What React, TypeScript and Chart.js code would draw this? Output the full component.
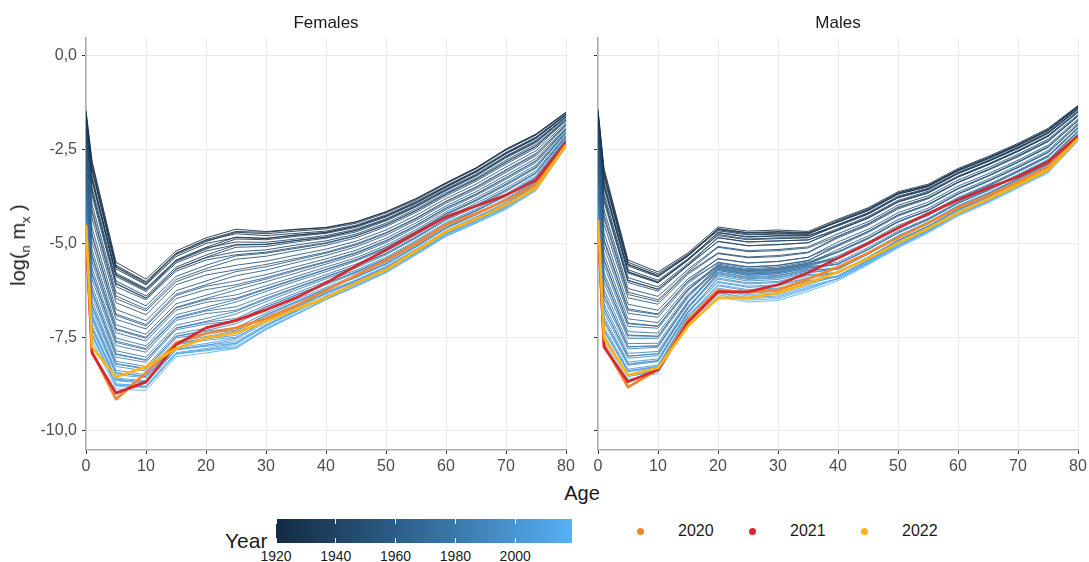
import React, { useEffect, useRef } from "react";
import { Chart, registerables } from "chart.js";
Chart.register(...registerables);

const AGES = [0, 1, 5, 10, 15, 20, 25, 30, 35, 40, 45, 50, 55, 60, 65, 70, 75, 80];
const YEARS = [
  1920, 1922, 1924, 1926, 1928, 1930, 1932, 1934, 1936, 1938, 1940, 1942, 1944, 1946, 1948, 1950, 1952, 1954, 1956, 1958,
  1960, 1962, 1964, 1966, 1968, 1970, 1972, 1974, 1976, 1978, 1980, 1982, 1984, 1986, 1988, 1990, 1992, 1994, 1996, 1998,
  2000, 2002, 2004, 2006, 2008, 2010, 2012, 2014, 2016, 2018,
];
const X_TICKS = [0, 10, 20, 30, 40, 50, 60, 70, 80];
const Y_TICKS = [-10, -7.5, -5, -2.5, 0];
const COLORBAR_TICKS = [1920, 1940, 1960, 1980, 2000];
const HIGHLIGHT_LABELS = ["2020", "2021", "2022"];
const HIGHLIGHT_COLORS = ["#F4862F", "#D42A2F", "#FDB316"];
const PANEL_TITLES = ["Females", "Males"];

// log(nmx): one row per age group (AGES), one value per year (YEARS)
const FEMALE_BY_AGE = [
  [-1.45, -1.5, -1.6, -1.58, -1.62, -1.72, -1.8, -1.78, -1.84, -1.95, -2.02, -2.04, -2.1, -2.28, -2.4, -2.45, -2.55, -2.72, -2.86, -2.9, -3.0, -3.15, -3.27, -3.32, -3.4, -3.52, -3.62, -3.66, -3.74, -3.86, -3.95, -3.98, -4.05, -4.16, -4.24, -4.27, -4.33, -4.42, -4.47, -4.5, -4.55, -4.63, -4.68, -4.69, -4.72, -4.79, -4.82, -4.83, -4.86, -4.92],
  [-2.8, -2.86, -2.98, -2.97, -3.05, -3.2, -3.28, -3.26, -3.34, -3.5, -3.6, -3.62, -3.72, -3.95, -4.1, -4.18, -4.33, -4.58, -4.75, -4.8, -4.95, -5.16, -5.3, -5.36, -5.48, -5.66, -5.78, -5.83, -5.95, -6.13, -6.25, -6.28, -6.38, -6.53, -6.63, -6.67, -6.76, -6.88, -6.95, -6.98, -7.05, -7.18, -7.25, -7.26, -7.3, -7.39, -7.43, -7.44, -7.48, -7.58],
  [-5.5, -5.58, -5.63, -5.62, -5.68, -5.79, -5.84, -5.83, -5.88, -6.0, -6.06, -6.08, -6.15, -6.3, -6.4, -6.47, -6.58, -6.76, -6.88, -6.92, -7.02, -7.17, -7.27, -7.3, -7.38, -7.52, -7.6, -7.64, -7.72, -7.86, -7.94, -7.96, -8.03, -8.14, -8.2, -8.22, -8.28, -8.38, -8.44, -8.45, -8.5, -8.59, -8.64, -8.62, -8.66, -8.74, -8.78, -8.76, -8.8, -8.88],
  [-5.95, -6.02, -6.08, -6.04, -6.1, -6.2, -6.25, -6.22, -6.28, -6.4, -6.45, -6.46, -6.5, -6.66, -6.75, -6.8, -6.9, -7.06, -7.16, -7.2, -7.28, -7.42, -7.5, -7.53, -7.6, -7.73, -7.8, -7.83, -7.9, -8.03, -8.1, -8.12, -8.17, -8.28, -8.33, -8.35, -8.4, -8.5, -8.55, -8.54, -8.58, -8.66, -8.7, -8.69, -8.73, -8.8, -8.83, -8.81, -8.85, -8.92],
  [-5.2, -5.26, -5.3, -5.27, -5.35, -5.44, -5.48, -5.46, -5.52, -5.63, -5.68, -5.69, -5.74, -5.88, -5.96, -6.02, -6.1, -6.26, -6.35, -6.39, -6.47, -6.61, -6.7, -6.72, -6.78, -6.9, -6.97, -7.0, -7.05, -7.18, -7.25, -7.26, -7.3, -7.41, -7.47, -7.48, -7.52, -7.62, -7.67, -7.67, -7.7, -7.78, -7.83, -7.82, -7.84, -7.91, -7.95, -7.93, -7.95, -8.02],
  [-4.85, -4.9, -4.95, -4.92, -5.0, -5.1, -5.15, -5.12, -5.2, -5.31, -5.37, -5.38, -5.44, -5.58, -5.67, -5.73, -5.84, -6.0, -6.1, -6.14, -6.23, -6.38, -6.47, -6.5, -6.57, -6.7, -6.77, -6.8, -6.87, -7.0, -7.08, -7.1, -7.15, -7.26, -7.32, -7.34, -7.39, -7.48, -7.53, -7.54, -7.58, -7.67, -7.72, -7.71, -7.74, -7.8, -7.84, -7.83, -7.86, -7.92],
  [-4.62, -4.68, -4.7, -4.74, -4.84, -4.83, -4.88, -4.96, -5.03, -5.04, -5.1, -5.22, -5.3, -5.33, -5.42, -5.58, -5.7, -5.75, -5.86, -6.0, -6.1, -6.15, -6.24, -6.37, -6.46, -6.49, -6.56, -6.69, -6.78, -6.81, -6.88, -7.0, -7.06, -7.08, -7.14, -7.25, -7.32, -7.33, -7.37, -7.45, -7.5, -7.52, -7.56, -7.62, -7.66, -7.66, -7.69, -7.75, -7.78, -7.8],
  [-4.68, -4.7, -4.74, -4.79, -4.87, -4.86, -4.9, -4.97, -5.02, -5.03, -5.08, -5.17, -5.23, -5.26, -5.34, -5.47, -5.56, -5.62, -5.71, -5.83, -5.91, -5.95, -6.02, -6.13, -6.2, -6.22, -6.28, -6.39, -6.46, -6.49, -6.55, -6.64, -6.69, -6.7, -6.76, -6.85, -6.9, -6.9, -6.94, -7.01, -7.06, -7.06, -7.1, -7.16, -7.19, -7.18, -7.21, -7.26, -7.28, -7.3],
  [-4.62, -4.63, -4.67, -4.73, -4.78, -4.77, -4.81, -4.88, -4.92, -4.92, -4.96, -5.04, -5.1, -5.13, -5.19, -5.31, -5.4, -5.44, -5.51, -5.62, -5.69, -5.72, -5.79, -5.88, -5.94, -5.96, -6.01, -6.11, -6.17, -6.19, -6.24, -6.32, -6.37, -6.38, -6.42, -6.5, -6.56, -6.55, -6.58, -6.65, -6.69, -6.69, -6.72, -6.78, -6.81, -6.8, -6.82, -6.87, -6.89, -6.9],
  [-4.57, -4.58, -4.61, -4.67, -4.71, -4.7, -4.73, -4.79, -4.83, -4.83, -4.86, -4.93, -4.98, -5.0, -5.05, -5.15, -5.23, -5.26, -5.32, -5.41, -5.48, -5.5, -5.55, -5.63, -5.69, -5.7, -5.75, -5.83, -5.88, -5.9, -5.94, -6.01, -6.06, -6.07, -6.1, -6.17, -6.21, -6.21, -6.23, -6.29, -6.33, -6.32, -6.35, -6.4, -6.42, -6.41, -6.43, -6.47, -6.49, -6.5],
  [-4.42, -4.43, -4.46, -4.51, -4.54, -4.54, -4.57, -4.62, -4.65, -4.65, -4.69, -4.75, -4.79, -4.8, -4.85, -4.94, -5.01, -5.04, -5.09, -5.18, -5.24, -5.26, -5.3, -5.38, -5.43, -5.44, -5.47, -5.55, -5.6, -5.61, -5.65, -5.71, -5.75, -5.76, -5.79, -5.85, -5.89, -5.89, -5.91, -5.97, -6.0, -5.99, -6.02, -6.06, -6.08, -6.07, -6.09, -6.12, -6.14, -6.15],
  [-4.15, -4.16, -4.19, -4.24, -4.27, -4.27, -4.29, -4.34, -4.37, -4.37, -4.4, -4.46, -4.5, -4.51, -4.55, -4.64, -4.71, -4.73, -4.78, -4.86, -4.92, -4.94, -4.98, -5.05, -5.1, -5.11, -5.14, -5.21, -5.26, -5.27, -5.3, -5.37, -5.41, -5.41, -5.44, -5.5, -5.54, -5.54, -5.56, -5.61, -5.64, -5.64, -5.66, -5.7, -5.72, -5.71, -5.72, -5.75, -5.77, -5.78],
  [-3.8, -3.81, -3.84, -3.88, -3.91, -3.91, -3.93, -3.97, -4.0, -4.0, -4.03, -4.08, -4.12, -4.13, -4.17, -4.25, -4.32, -4.34, -4.38, -4.45, -4.51, -4.52, -4.56, -4.63, -4.68, -4.68, -4.71, -4.78, -4.83, -4.83, -4.86, -4.92, -4.96, -4.96, -4.99, -5.05, -5.08, -5.08, -5.1, -5.15, -5.17, -5.17, -5.19, -5.23, -5.25, -5.24, -5.25, -5.27, -5.28, -5.31],
  [-3.38, -3.39, -3.41, -3.46, -3.49, -3.48, -3.5, -3.54, -3.57, -3.57, -3.6, -3.65, -3.68, -3.69, -3.73, -3.8, -3.87, -3.89, -3.93, -4.0, -4.05, -4.06, -4.1, -4.16, -4.21, -4.21, -4.24, -4.3, -4.35, -4.35, -4.38, -4.44, -4.48, -4.48, -4.5, -4.56, -4.59, -4.58, -4.6, -4.65, -4.68, -4.67, -4.69, -4.73, -4.75, -4.74, -4.75, -4.78, -4.8, -4.81],
  [-2.98, -2.99, -3.01, -3.06, -3.09, -3.08, -3.1, -3.15, -3.18, -3.18, -3.21, -3.26, -3.29, -3.3, -3.34, -3.42, -3.49, -3.51, -3.55, -3.62, -3.68, -3.69, -3.72, -3.79, -3.84, -3.84, -3.87, -3.93, -3.98, -3.99, -4.02, -4.08, -4.12, -4.12, -4.14, -4.2, -4.23, -4.22, -4.24, -4.29, -4.32, -4.31, -4.33, -4.37, -4.4, -4.39, -4.4, -4.43, -4.45, -4.46],
  [-2.48, -2.49, -2.51, -2.57, -2.6, -2.59, -2.61, -2.66, -2.69, -2.69, -2.72, -2.78, -2.82, -2.84, -2.88, -2.96, -3.03, -3.06, -3.1, -3.18, -3.24, -3.25, -3.29, -3.36, -3.41, -3.42, -3.45, -3.52, -3.57, -3.58, -3.61, -3.68, -3.72, -3.72, -3.74, -3.8, -3.84, -3.83, -3.85, -3.91, -3.94, -3.93, -3.95, -3.99, -4.02, -4.01, -4.02, -4.05, -4.07, -4.09],
  [-2.08, -2.09, -2.11, -2.16, -2.19, -2.18, -2.2, -2.25, -2.28, -2.28, -2.31, -2.36, -2.4, -2.41, -2.45, -2.53, -2.6, -2.62, -2.66, -2.73, -2.79, -2.8, -2.84, -2.91, -2.96, -2.96, -2.99, -3.06, -3.11, -3.11, -3.14, -3.2, -3.24, -3.24, -3.26, -3.32, -3.36, -3.35, -3.37, -3.42, -3.45, -3.44, -3.46, -3.5, -3.53, -3.51, -3.52, -3.55, -3.57, -3.59],
  [-1.5, -1.5, -1.52, -1.55, -1.57, -1.56, -1.57, -1.61, -1.63, -1.63, -1.64, -1.68, -1.7, -1.71, -1.73, -1.78, -1.82, -1.84, -1.86, -1.91, -1.94, -1.95, -1.97, -2.01, -2.04, -2.04, -2.06, -2.11, -2.14, -2.14, -2.15, -2.19, -2.22, -2.22, -2.23, -2.27, -2.29, -2.28, -2.29, -2.33, -2.35, -2.34, -2.35, -2.37, -2.38, -2.37, -2.38, -2.41, -2.42, -2.42],
];

const MALE_BY_AGE = [
  [-1.42, -1.47, -1.55, -1.52, -1.58, -1.68, -1.74, -1.72, -1.79, -1.9, -1.97, -1.98, -2.04, -2.2, -2.3, -2.36, -2.46, -2.63, -2.75, -2.78, -2.88, -3.03, -3.14, -3.16, -3.23, -3.37, -3.45, -3.48, -3.55, -3.7, -3.78, -3.79, -3.85, -3.97, -4.03, -4.05, -4.1, -4.2, -4.26, -4.27, -4.31, -4.4, -4.45, -4.44, -4.47, -4.54, -4.58, -4.57, -4.6, -4.67],
  [-3.0, -3.06, -3.17, -3.16, -3.25, -3.37, -3.45, -3.43, -3.52, -3.67, -3.78, -3.8, -3.89, -4.1, -4.24, -4.33, -4.49, -4.72, -4.88, -4.94, -5.09, -5.29, -5.42, -5.47, -5.59, -5.77, -5.88, -5.93, -6.05, -6.22, -6.34, -6.37, -6.47, -6.61, -6.71, -6.74, -6.83, -6.95, -7.03, -7.04, -7.11, -7.23, -7.31, -7.3, -7.35, -7.44, -7.49, -7.48, -7.53, -7.62],
  [-5.44, -5.5, -5.56, -5.55, -5.6, -5.7, -5.76, -5.75, -5.79, -5.91, -5.98, -5.99, -6.04, -6.2, -6.3, -6.36, -6.45, -6.62, -6.74, -6.78, -6.86, -7.01, -7.12, -7.14, -7.21, -7.35, -7.44, -7.46, -7.53, -7.67, -7.75, -7.76, -7.81, -7.93, -8.0, -8.01, -8.06, -8.16, -8.22, -8.21, -8.25, -8.35, -8.41, -8.39, -8.42, -8.5, -8.54, -8.52, -8.55, -8.62],
  [-5.76, -5.81, -5.87, -5.85, -5.89, -5.98, -6.04, -6.02, -6.05, -6.16, -6.22, -6.22, -6.27, -6.41, -6.5, -6.55, -6.62, -6.78, -6.88, -6.9, -6.97, -7.11, -7.2, -7.21, -7.26, -7.39, -7.47, -7.48, -7.53, -7.66, -7.73, -7.73, -7.77, -7.88, -7.94, -7.94, -7.99, -8.08, -8.13, -8.12, -8.15, -8.24, -8.29, -8.27, -8.3, -8.37, -8.4, -8.38, -8.4, -8.47],
  [-5.25, -5.29, -5.33, -5.31, -5.34, -5.41, -5.44, -5.42, -5.45, -5.53, -5.57, -5.57, -5.59, -5.69, -5.75, -5.78, -5.82, -5.94, -6.0, -6.01, -6.06, -6.16, -6.22, -6.22, -6.26, -6.35, -6.4, -6.4, -6.44, -6.53, -6.58, -6.57, -6.6, -6.68, -6.72, -6.71, -6.74, -6.81, -6.85, -6.83, -6.85, -6.92, -6.95, -6.92, -6.94, -7.0, -7.03, -7.0, -7.01, -7.07],
  [-4.56, -4.62, -4.6, -4.66, -4.63, -4.72, -4.7, -4.79, -4.76, -4.85, -4.84, -4.95, -4.94, -5.08, -5.1, -5.25, -5.27, -5.41, -5.4, -5.52, -5.5, -5.6, -5.55, -5.63, -5.58, -5.67, -5.61, -5.69, -5.65, -5.72, -5.68, -5.76, -5.72, -5.81, -5.78, -5.87, -5.83, -5.95, -5.92, -6.04, -6.01, -6.13, -6.1, -6.23, -6.19, -6.31, -6.26, -6.37, -6.33, -6.42],
  [-4.67, -4.72, -4.71, -4.77, -4.75, -4.83, -4.82, -4.9, -4.88, -4.96, -4.96, -5.06, -5.06, -5.19, -5.22, -5.36, -5.38, -5.52, -5.52, -5.63, -5.62, -5.72, -5.67, -5.75, -5.7, -5.79, -5.73, -5.82, -5.77, -5.85, -5.81, -5.89, -5.85, -5.94, -5.91, -6.0, -5.96, -6.08, -6.05, -6.17, -6.14, -6.26, -6.23, -6.36, -6.32, -6.44, -6.4, -6.51, -6.47, -6.56],
  [-4.64, -4.7, -4.68, -4.75, -4.73, -4.8, -4.79, -4.87, -4.85, -4.93, -4.93, -5.03, -5.03, -5.16, -5.19, -5.32, -5.35, -5.48, -5.48, -5.59, -5.58, -5.68, -5.63, -5.71, -5.66, -5.75, -5.69, -5.78, -5.73, -5.81, -5.77, -5.85, -5.81, -5.9, -5.87, -5.96, -5.92, -6.04, -6.01, -6.13, -6.1, -6.22, -6.19, -6.32, -6.28, -6.4, -6.36, -6.47, -6.43, -6.52],
  [-4.68, -4.72, -4.71, -4.76, -4.74, -4.8, -4.79, -4.85, -4.84, -4.91, -4.9, -4.98, -4.98, -5.09, -5.12, -5.23, -5.25, -5.37, -5.37, -5.46, -5.45, -5.53, -5.49, -5.56, -5.52, -5.59, -5.55, -5.62, -5.58, -5.65, -5.62, -5.69, -5.66, -5.73, -5.71, -5.79, -5.76, -5.86, -5.83, -5.93, -5.91, -6.01, -5.99, -6.09, -6.06, -6.17, -6.13, -6.23, -6.2, -6.28],
  [-4.35, -4.38, -4.43, -4.41, -4.42, -4.49, -4.53, -4.51, -4.52, -4.6, -4.64, -4.63, -4.65, -4.74, -4.8, -4.82, -4.85, -4.96, -5.03, -5.04, -5.07, -5.16, -5.22, -5.22, -5.24, -5.33, -5.38, -5.38, -5.41, -5.5, -5.55, -5.54, -5.56, -5.64, -5.68, -5.67, -5.69, -5.76, -5.79, -5.77, -5.79, -5.86, -5.89, -5.86, -5.88, -5.93, -5.95, -5.93, -5.94, -5.99],
  [-4.05, -4.08, -4.13, -4.1, -4.11, -4.18, -4.22, -4.2, -4.21, -4.28, -4.32, -4.31, -4.33, -4.42, -4.47, -4.49, -4.52, -4.62, -4.68, -4.68, -4.71, -4.8, -4.86, -4.85, -4.88, -4.96, -5.01, -5.0, -5.03, -5.11, -5.16, -5.15, -5.17, -5.24, -5.28, -5.27, -5.29, -5.36, -5.39, -5.37, -5.38, -5.45, -5.48, -5.45, -5.47, -5.52, -5.54, -5.51, -5.53, -5.57],
  [-3.62, -3.65, -3.69, -3.66, -3.68, -3.74, -3.78, -3.76, -3.78, -3.85, -3.89, -3.88, -3.9, -3.98, -4.03, -4.05, -4.08, -4.18, -4.24, -4.24, -4.27, -4.36, -4.42, -4.41, -4.43, -4.52, -4.57, -4.56, -4.58, -4.67, -4.72, -4.7, -4.72, -4.79, -4.83, -4.82, -4.84, -4.91, -4.94, -4.92, -4.93, -5.0, -5.03, -5.0, -5.02, -5.07, -5.09, -5.06, -5.08, -5.12],
  [-3.42, -3.45, -3.49, -3.46, -3.47, -3.53, -3.57, -3.54, -3.55, -3.61, -3.65, -3.64, -3.66, -3.73, -3.78, -3.79, -3.81, -3.9, -3.96, -3.96, -3.98, -4.06, -4.12, -4.11, -4.13, -4.2, -4.24, -4.23, -4.26, -4.33, -4.37, -4.35, -4.37, -4.43, -4.47, -4.46, -4.48, -4.53, -4.56, -4.54, -4.55, -4.61, -4.64, -4.61, -4.63, -4.67, -4.69, -4.66, -4.68, -4.72],
  [-3.0, -3.03, -3.07, -3.04, -3.05, -3.11, -3.14, -3.12, -3.13, -3.2, -3.23, -3.22, -3.23, -3.31, -3.36, -3.37, -3.38, -3.47, -3.53, -3.53, -3.55, -3.63, -3.68, -3.67, -3.69, -3.77, -3.81, -3.8, -3.82, -3.89, -3.93, -3.91, -3.93, -3.99, -4.03, -4.01, -4.03, -4.09, -4.12, -4.1, -4.11, -4.17, -4.19, -4.16, -4.18, -4.22, -4.24, -4.21, -4.23, -4.27],
  [-2.68, -2.71, -2.75, -2.72, -2.73, -2.79, -2.82, -2.8, -2.81, -2.88, -2.91, -2.89, -2.9, -2.98, -3.03, -3.03, -3.05, -3.14, -3.2, -3.19, -3.21, -3.29, -3.34, -3.33, -3.35, -3.43, -3.47, -3.46, -3.48, -3.55, -3.59, -3.57, -3.59, -3.65, -3.69, -3.67, -3.68, -3.74, -3.77, -3.75, -3.76, -3.82, -3.84, -3.81, -3.83, -3.87, -3.89, -3.86, -3.88, -3.92],
  [-2.33, -2.36, -2.4, -2.37, -2.38, -2.44, -2.47, -2.44, -2.45, -2.52, -2.55, -2.53, -2.54, -2.62, -2.66, -2.67, -2.69, -2.78, -2.83, -2.82, -2.84, -2.92, -2.97, -2.96, -2.98, -3.05, -3.09, -3.07, -3.09, -3.16, -3.2, -3.18, -3.2, -3.26, -3.3, -3.28, -3.29, -3.35, -3.38, -3.35, -3.36, -3.42, -3.45, -3.42, -3.43, -3.47, -3.49, -3.46, -3.48, -3.52],
  [-1.93, -1.96, -2.0, -1.97, -1.98, -2.04, -2.07, -2.04, -2.05, -2.12, -2.15, -2.13, -2.14, -2.22, -2.26, -2.27, -2.29, -2.38, -2.43, -2.42, -2.44, -2.52, -2.57, -2.56, -2.58, -2.65, -2.69, -2.67, -2.69, -2.76, -2.8, -2.78, -2.8, -2.86, -2.9, -2.88, -2.89, -2.95, -2.98, -2.95, -2.96, -3.02, -3.05, -3.02, -3.03, -3.07, -3.09, -3.06, -3.08, -3.12],
  [-1.32, -1.34, -1.37, -1.35, -1.36, -1.4, -1.43, -1.41, -1.42, -1.47, -1.5, -1.49, -1.5, -1.56, -1.59, -1.6, -1.61, -1.68, -1.72, -1.72, -1.73, -1.79, -1.83, -1.83, -1.84, -1.9, -1.93, -1.92, -1.93, -1.99, -2.02, -2.01, -2.02, -2.07, -2.09, -2.08, -2.09, -2.14, -2.16, -2.14, -2.15, -2.19, -2.21, -2.19, -2.2, -2.23, -2.25, -2.22, -2.24, -2.27],
];

// Highlight years (values follow AGES)
const FEMALE_2020 = [-4.6, -7.88, -9.15, -8.45, -7.65, -7.4, -7.25, -7.0, -6.65, -6.25, -5.85, -5.45, -5.0, -4.5, -4.2, -3.85, -3.42, -2.35];
const FEMALE_2021 = [-4.75, -7.92, -8.99, -8.69, -7.7, -7.25, -7.05, -6.77, -6.45, -6.05, -5.6, -5.17, -4.72, -4.29, -4.0, -3.71, -3.31, -2.3];
const FEMALE_2022 = [-4.5, -7.76, -8.56, -8.29, -7.8, -7.52, -7.38, -7.08, -6.75, -6.45, -6.05, -5.7, -5.2, -4.68, -4.35, -3.97, -3.52, -2.37];
const MALE_2020 = [-4.45, -7.7, -8.83, -8.36, -7.04, -6.24, -6.3, -6.24, -5.95, -5.63, -5.25, -4.85, -4.45, -4.05, -3.72, -3.36, -2.95, -2.17];
const MALE_2021 = [-4.5, -7.76, -8.69, -8.37, -7.1, -6.29, -6.29, -6.1, -5.78, -5.39, -5.0, -4.59, -4.2, -3.84, -3.52, -3.22, -2.83, -2.13];
const MALE_2022 = [-4.37, -7.52, -8.51, -8.32, -7.2, -6.45, -6.45, -6.32, -6.05, -5.76, -5.4, -4.99, -4.6, -4.19, -3.82, -3.44, -3.04, -2.2];

const FONT = '"Liberation Sans", Arial, Helvetica, sans-serif';
const LOW = "#132B43";
const HIGH = "#56B1F7";
const YEAR_MIN = 1920;
const YEAR_MAX = 2019;

function hexToRgb(h: string) {
  return [parseInt(h.slice(1, 3), 16), parseInt(h.slice(3, 5), 16), parseInt(h.slice(5, 7), 16)];
}
function toLin(c: number) {
  c /= 255;
  return c <= 0.04045 ? c / 12.92 : Math.pow((c + 0.055) / 1.055, 2.4);
}
function fromLin(c: number) {
  const v = c <= 0.0031308 ? 12.92 * c : 1.055 * Math.pow(c, 1 / 2.4) - 0.055;
  return Math.round(Math.max(0, Math.min(1, v)) * 255);
}
const D = 6 / 29;
function fl(t: number) {
  return t > D * D * D ? Math.cbrt(t) : t / (3 * D * D) + 4 / 29;
}
function finv(t: number) {
  return t > D ? t * t * t : 3 * D * D * (t - 4 / 29);
}
function rgbToLab(rgb: number[]) {
  const [r, g, b] = rgb.map(toLin);
  const X = (0.4124564 * r + 0.3575761 * g + 0.1804375 * b) / 0.95047;
  const Y = 0.2126729 * r + 0.7151522 * g + 0.072175 * b;
  const Z = (0.0193339 * r + 0.119192 * g + 0.9503041 * b) / 1.08883;
  return [116 * fl(Y) - 16, 500 * (fl(X) - fl(Y)), 200 * (fl(Y) - fl(Z))];
}
function labToRgb(lab: number[]) {
  const fy = (lab[0] + 16) / 116;
  const X = finv(fy + lab[1] / 500) * 0.95047;
  const Y = finv(fy);
  const Z = finv(fy - lab[2] / 200) * 1.08883;
  const r = 3.2404542 * X - 1.5371385 * Y - 0.4985314 * Z;
  const g = -0.969266 * X + 1.8760108 * Y + 0.041556 * Z;
  const b = 0.0556434 * X - 0.2040259 * Y + 1.0572252 * Z;
  return `rgb(${fromLin(r)},${fromLin(g)},${fromLin(b)})`;
}
const LAB_LOW = rgbToLab(hexToRgb(LOW));
const LAB_HIGH = rgbToLab(hexToRgb(HIGH));
function gradColor(t: number) {
  return labToRgb(LAB_LOW.map((v, i) => v + (LAB_HIGH[i] - v) * t));
}
function yearColor(y: number) {
  return gradColor((y - YEAR_MIN) / (YEAR_MAX - YEAR_MIN));
}

function buildDatasets(byAge: number[][], highlights: number[][]) {
  const ds: any[] = YEARS.map((y, j) => ({
    label: String(y),
    data: AGES.map((a, i) => ({ x: a, y: byAge[i][j] ?? null })),
    borderColor: yearColor(y),
    borderWidth: 0.85,
    pointRadius: 0,
    borderJoinStyle: "round",
    fill: false,
    order: 200 - j,
  }));
  highlights.forEach((arr, k) => {
    ds.push({
      label: HIGHLIGHT_LABELS[k],
      data: AGES.map((a, i) => ({ x: a, y: arr[i] })),
      borderColor: HIGHLIGHT_COLORS[k],
      borderWidth: 2.7,
      pointRadius: 0,
      borderJoinStyle: "round",
      fill: false,
      order: 2 - k,
    });
  });
  return ds;
}

function Panel({ byAge, highlights, showY, left }: { byAge: number[][]; highlights: number[][]; showY: boolean; left: number }) {
  const ref = useRef<HTMLCanvasElement>(null);
  useEffect(() => {
    if (!ref.current) return;
    const chart = new Chart(ref.current, {
      type: "line",
      data: { datasets: buildDatasets(byAge, highlights) },
      options: {
        animation: false,
        responsive: false,
        events: [],
        layout: { padding: { top: 38, right: 14, left: 0, bottom: 0 } },
        plugins: { legend: { display: false }, tooltip: { enabled: false }, title: { display: false } },
        scales: {
          x: {
            type: "linear",
            min: 0,
            max: 80,
            afterBuildTicks: (s: any) => {
              s.ticks = X_TICKS.map((v) => ({ value: v }));
            },
            afterFit: (s: any) => {
              s.height = 30;
            },
            grid: { color: "#EBEBEB", lineWidth: 1, tickColor: "#333333", tickLength: 4, tickWidth: 1 },
            border: { display: true, color: "#ADADAD", width: 1.5 },
            ticks: { color: "#4D4D4D", font: { size: 16, family: FONT }, padding: 3, maxRotation: 0, autoSkip: false },
          },
          y: {
            type: "linear",
            min: -10.507,
            max: 0.48,
            afterBuildTicks: (s: any) => {
              s.ticks = Y_TICKS.map((v) => ({ value: v }));
            },
            afterFit: (s: any) => {
              s.width = 86;
            },
            grid: { color: "#EBEBEB", lineWidth: 1, tickColor: "#333333", tickLength: 4, tickWidth: 1 },
            border: { display: true, color: "#ADADAD", width: 1.5 },
            ticks: {
              color: "#4D4D4D",
              font: { size: 16, family: FONT },
              padding: 5,
              autoSkip: false,
              callback: (v: any) => (showY ? Number(v).toFixed(1).replace(".", ",") : ""),
            },
          },
        },
      } as any,
    });
    return () => chart.destroy();
  }, []);
  return (
    <canvas
      ref={ref}
      width={580}
      height={480}
      style={{ position: "absolute", left, top: 0, width: 580, height: 480 }}
    />
  );
}

export default function App() {
  const barLeft = 276;
  const barWidth = 296;
  const stops = Array.from({ length: 11 }, (_, k) => `${gradColor(k / 10)} ${k * 10}%`).join(", ");
  const legendDots = [640, 752, 864];
  return (
    <div
      style={{
        position: "absolute",
        left: 0,
        top: 0,
        width: 1089,
        height: 562,
        overflow: "hidden",
        background: "#fff",
        fontFamily: FONT,
        color: "#1A1A1A",
      }}
    >
      <Panel byAge={FEMALE_BY_AGE} highlights={[FEMALE_2020, FEMALE_2021, FEMALE_2022]} showY={true} left={0} />
      <Panel byAge={MALE_BY_AGE} highlights={[MALE_2020, MALE_2021, MALE_2022]} showY={false} left={512} />
      {PANEL_TITLES.map((t, i) => (
        <div
          key={t}
          style={{ position: "absolute", left: i === 0 ? 226 : 738, width: 200, top: 13, textAlign: "center", fontSize: 17, lineHeight: "20px" }}
        >
          {t}
        </div>
      ))}
      <div
        style={{
          position: "absolute",
          left: 22,
          top: 245,
          transform: "translate(-50%, -50%) rotate(-90deg)",
          whiteSpace: "nowrap",
          fontSize: 20,
          lineHeight: "24px",
        }}
      >
        log(<sub style={{ fontSize: 13 }}>n</sub> m<sub style={{ fontSize: 13 }}>x</sub> )
      </div>
      <div style={{ position: "absolute", left: 482, width: 200, top: 481, textAlign: "center", fontSize: 20, lineHeight: "24px" }}>Age</div>
      <div style={{ position: "absolute", left: 225, top: 529, fontSize: 21, lineHeight: "24px" }}>Year</div>
      <div
        style={{
          position: "absolute",
          left: barLeft,
          top: 519,
          width: barWidth,
          height: 24,
          background: `linear-gradient(to right, ${stops})`,
        }}
      />
      {COLORBAR_TICKS.map((y) => {
        const x = barLeft + ((y - YEAR_MIN) / (YEAR_MAX - YEAR_MIN)) * barWidth;
        return (
          <React.Fragment key={y}>
            <div style={{ position: "absolute", left: x - 0.5, top: 519, width: 1, height: 5, background: "#fff" }} />
            <div style={{ position: "absolute", left: x - 0.5, top: 538, width: 1, height: 5, background: "#fff" }} />
            <div style={{ position: "absolute", left: x - 30, width: 60, top: 548, textAlign: "center", fontSize: 14, lineHeight: "16px" }}>{y}</div>
          </React.Fragment>
        );
      })}
      {HIGHLIGHT_LABELS.map((lab, k) => (
        <React.Fragment key={lab}>
          <div
            style={{
              position: "absolute",
              left: legendDots[k] - 3.5,
              top: 531 - 3.5,
              width: 7,
              height: 7,
              borderRadius: "50%",
              background: HIGHLIGHT_COLORS[k],
            }}
          />
          <div style={{ position: "absolute", left: legendDots[k] + 38, top: 521, fontSize: 16, lineHeight: "20px" }}>{lab}</div>
        </React.Fragment>
      ))}
    </div>
  );
}
